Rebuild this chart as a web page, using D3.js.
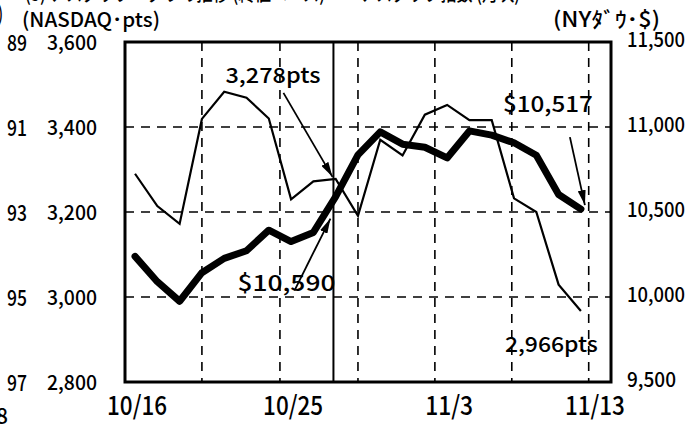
<!DOCTYPE html>
<html>
<head>
<meta charset="utf-8">
<script src="https://cdn.jsdelivr.net/npm/d3@7"></script>
<style>
  html, body { margin: 0; padding: 0; background: #fff; }
  svg { display: block; }
  text { font-family: "Noto Sans CJK JP", "Noto Sans", sans-serif; fill: #000; font-weight: 500; }
</style>
</head>
<body>
<div id="container"></div>
<script>
// trading days, 10/16 .. 11/13
const dates = ["10/16","10/17","10/18","10/19","10/20","10/23","10/24","10/25","10/26","10/27",
               "10/30","10/31","11/1","11/2","11/3","11/6","11/7","11/8","11/9","11/10","11/13"];
const nasdaq = [3290, 3214, 3172, 3419, 3483, 3469, 3420, 3230, 3272, 3278,
                3191, 3370, 3333, 3429, 3452, 3416, 3416, 3232, 3200, 3029, 2967];
const dow = [10239, 10090, 9975, 10143, 10227, 10272, 10393, 10326, 10380, 10591,
             10836, 10971, 10899, 10881, 10818, 10977, 10952, 10907, 10834, 10603, 10517];

const dateTicks = ["10/16", "10/25", "11/3", "11/13"];
const nasdaqTicks = [2800, 3000, 3200, 3400, 3600];
const dowTicks = [9500, 10000, 10500, 11000, 11500];
const outerTicks = ["97", "95", "93", "91", "89"];   // labels of the neighbouring chart, cut off
const gridDays = [3, 6.5, 10, 13.45, 16.9, 20.35];
const markDay = 8.9;

const width = 689;
const height = 434;
const plot = {left: 125, right: 611, top: 42, bottom: 382};

const svg = d3.select("div#container")
    .append("svg")
    .attr("width", width)
    .attr("height", height);

const x = d3.scaleLinear().domain([-0.45, 21.35]).range([plot.left, plot.right]);
const yL = d3.scaleLinear().domain([2800, 3600]).range([plot.bottom, plot.top]);
const yR = d3.scaleLinear().domain([9500, 11500]).range([plot.bottom, plot.top]);

// squeeze text to a given width (the original type is a condensed gothic)
function label(g, str, px, py, size, len, anchor) {
    return g.append("text")
        .attr("x", px)
        .attr("y", py)
        .attr("font-size", size)
        .attr("text-anchor", anchor || "start")
        .attr("textLength", len)
        .attr("lengthAdjust", "spacingAndGlyphs")
        .text(str);
}

svg.append("defs").append("marker")
    .attr("id", "head")
    .attr("viewBox", "0 0 15 8")
    .attr("refX", 15)
    .attr("refY", 4)
    .attr("markerWidth", 15)
    .attr("markerHeight", 8)
    .attr("markerUnits", "userSpaceOnUse")
    .attr("orient", "auto")
    .append("path")
    .attr("d", "M0,0 L15,4 L0,8 Z")
    .attr("fill", "#000");

// dashed grid
const grid = svg.append("g")
    .attr("stroke", "#000")
    .attr("stroke-width", 1.6)
    .attr("stroke-dasharray", "9,7");

grid.selectAll("line.h")
    .data(nasdaqTicks.slice(1, -1))
    .enter()
    .append("line")
    .attr("x1", plot.left)
    .attr("x2", plot.right)
    .attr("y1", d => yL(d))
    .attr("y2", d => yL(d));

grid.selectAll("line.v")
    .data(gridDays)
    .enter()
    .append("line")
    .attr("x1", d => x(d))
    .attr("x2", d => x(d))
    .attr("y1", plot.top)
    .attr("y2", plot.bottom);

// reference day
svg.append("line")
    .attr("x1", x(markDay))
    .attr("x2", x(markDay))
    .attr("y1", plot.top)
    .attr("y2", plot.bottom)
    .attr("stroke", "#000")
    .attr("stroke-width", 2);

const lineN = d3.line()
    .x((d, i) => x(i))
    .y(d => yL(d));

const lineD = d3.line()
    .x((d, i) => x(i))
    .y(d => yR(d));

svg.append("path")
    .attr("d", lineN(nasdaq))
    .attr("fill", "none")
    .attr("stroke", "#000")
    .attr("stroke-width", 2.2)
    .attr("stroke-linejoin", "miter");

svg.append("path")
    .attr("d", lineD(dow))
    .attr("fill", "none")
    .attr("stroke", "#000")
    .attr("stroke-width", 7)
    .attr("stroke-linejoin", "round")
    .attr("stroke-linecap", "round");

// frame
svg.append("rect")
    .attr("x", plot.left)
    .attr("y", plot.top)
    .attr("width", plot.right - plot.left)
    .attr("height", plot.bottom - plot.top)
    .attr("fill", "none")
    .attr("stroke", "#000")
    .attr("stroke-width", 3);

// axes labels
const axes = svg.append("g");
nasdaqTicks.forEach(function(v, i) {
    const s = d3.format(",")(v);
    label(axes, s, 97, yL(v) + 8, 20, 50, "end");
    label(axes, outerTicks[i], 7, yL(v) + 9, 22, 20);
});
dowTicks.forEach(function(v) {
    const s = d3.format(",")(v);
    label(axes, s, 627, yR(v) + 5, 20, s.length > 5 ? 58 : 49);
});
dateTicks.forEach(function(t, i) {
    const k = dates.indexOf(t);
    label(axes, t, x(k) + (i === dateTicks.length - 1 ? 14 : 2), 415, 26, t.length * 12, "middle");
});

label(axes, "(NASDAQ･pts)", 22, 27, 20, 138);
label(axes, "(NYﾀﾞｳ･$)", 553, 27, 21, 107);
label(axes, ")", -2, 21, 20, 5);
label(axes, "8", 8, 424, 22, 12, "end");
// title line, mostly cut off by the page edge
label(axes, "(3) ナスダック・ダウの推移 (終値ベース)", 25, 1, 20, 300);
label(axes, "ナスダック指数 (月次)", 360, 1, 20, 160);

// annotations
const note = svg.append("g");
const iRef = dates.indexOf("10/27");
const iEnd = dates.length - 1;

function arrow(x1, y1, x2, y2) {
    note.append("line")
        .attr("x1", x1).attr("y1", y1)
        .attr("x2", x2).attr("y2", y2)
        .attr("stroke", "#000")
        .attr("stroke-width", 1.8)
        .attr("marker-end", "url(#head)");
}

const pN = [x(markDay), yL(nasdaq[iRef])];
label(note, "3,278pts", pN[0] - 108, pN[1] - 96, 21, 95);
arrow(pN[0] - 50, pN[1] - 86, pN[0] - 1, pN[1] - 2);

const pD = [x(markDay), yR(dow[iRef])];
label(note, "$10,590", pD[0] + 2, pD[1] + 94, 22, 98, "end");
arrow(pD[0] - 39, pD[1] + 94, pD[0] - 3, pD[1] + 22);

const pE = [x(iEnd), yR(dow[iEnd])];
label(note, "$10,517", pE[0] + 12, pE[1] - 97, 22, 90, "end");
arrow(pE[0] - 11, pE[1] - 72, pE[0] + 4, pE[1] - 4);

const pF = [x(iEnd), yL(nasdaq[iEnd])];
label(note, "2,966pts", pF[0] - 76, pF[1] + 41, 21, 93);
</script>
</body>
</html>
